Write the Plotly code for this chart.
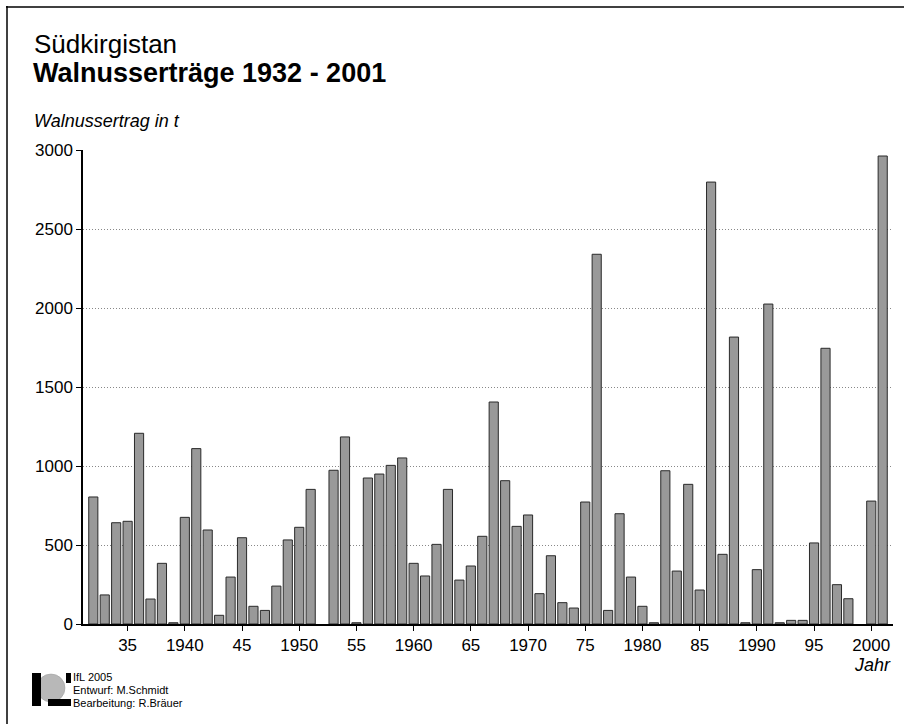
import plotly.graph_objects as go

years = list(range(1932, 2002))
ertrag = [
    804, 184, 641, 650, 1207, 158, 384, 8, 675, 1110,   # 1932-1941
    595, 55, 297, 546, 112, 86, 240, 532, 612, 852,     # 1942-1951
    None, 973, 1184, 8, 924, 949, 1004, 1051, 384, 304,  # 1952-1961
    504, 852, 278, 367, 555, 1405, 907, 618, 690, 192,  # 1962-1971
    432, 135, 101, 772, 2340, 86, 698, 297, 112, 8,     # 1972-1981
    970, 335, 884, 215, 2797, 441, 1816, 8, 344, 2025,  # 1982-1991
    8, 23, 23, 513, 1745, 249, 160, None, 778, 2962,    # 1992-2001
]
tick_years = [1935, 1940, 1945, 1950, 1955, 1960, 1965, 1970, 1975, 1980, 1985, 1990, 1995, 2000]
tick_labels = ["35", "1940", "45", "1950", "55", "1960", "65", "1970", "75", "1980", "85", "1990", "95", "2000"]
y_ticks = [0, 500, 1000, 1500, 2000, 2500, 3000]

W, H = 904, 724
L, R, T, B = 83, 11, 150, 100
FONT = "Liberation Sans, Arial, Helvetica, sans-serif"


def px(x):
    return (x - L) / (W - L - R)


def py(y):
    return (H - B - y) / (H - T - B)


fig = go.Figure()
fig.add_trace(go.Bar(
    x=years, y=ertrag, width=0.8,
    marker=dict(color="#999999", line=dict(color="#2a2a2a", width=1)),
    hoverinfo="x+y",
))

fig.update_layout(
    width=W, height=H,
    margin=dict(l=L, r=R, t=T, b=B),
    paper_bgcolor="white", plot_bgcolor="white",
    font=dict(family=FONT, color="black", size=17),
    showlegend=False,
)
fig.update_xaxes(
    range=[1931.1, 2001.9],
    tickvals=tick_years, ticktext=tick_labels,
    showline=True, linecolor="black", linewidth=1.5,
    ticks="outside", ticklen=5, tickwidth=1.2, tickcolor="black",
    showgrid=False, zeroline=False,
    tickfont=dict(size=17, family=FONT),
)
fig.update_yaxes(
    range=[0, 3000],
    tickvals=y_ticks,
    showline=True, linecolor="black", linewidth=1.5,
    ticks="outside", ticklen=5, tickwidth=1.2, tickcolor="black",
    showgrid=True, gridcolor="#888888", griddash="1px,2px", gridwidth=1,
    zeroline=False,
    tickfont=dict(size=17, family=FONT),
)

annotations = [
    dict(text="Südkirgistan", x=px(32), y=py(44), xanchor="left", yanchor="middle",
         font=dict(size=26, family=FONT)),
    dict(text="<b>Walnusserträge 1932 - 2001</b>", x=px(31), y=py(73), xanchor="left", yanchor="middle",
         font=dict(size=27, family=FONT)),
    dict(text="<i>Walnussertrag in t</i>", x=px(32), y=py(121), xanchor="left", yanchor="middle",
         font=dict(size=18, family=FONT)),
    dict(text="<i>Jahr</i>", x=px(893), y=py(665), xanchor="right", yanchor="middle",
         font=dict(size=18, family=FONT)),
    dict(text="IfL 2005", x=px(72), y=py(676.5), xanchor="left", yanchor="middle",
         font=dict(size=11, family=FONT), borderpad=0),
    dict(text="Entwurf: M.Schmidt", x=px(72), y=py(689.5), xanchor="left", yanchor="middle",
         font=dict(size=11, family=FONT), borderpad=0),
    dict(text="Bearbeitung: R.Bräuer", x=px(72), y=py(702.5), xanchor="left", yanchor="middle",
         font=dict(size=11, family=FONT), borderpad=0),
]
for a in annotations:
    a.update(xref="paper", yref="paper", showarrow=False)
fig.update_layout(annotations=annotations)

shapes = [
    # frame (left and top)
    dict(type="line", x0=px(7), x1=px(7), y0=py(6), y1=py(724), line=dict(color="black", width=1.5)),
    dict(type="line", x0=px(6), x1=px(904), y0=py(7), y1=py(7), line=dict(color="black", width=1.5)),
    # logo
    dict(type="circle", x0=px(37), x1=px(65), y0=py(702), y1=py(674),
         fillcolor="#b8b8b8", line=dict(color="#9a9a9a", width=0.5)),
    dict(type="rect", x0=px(32), x1=px(41), y0=py(706), y1=py(673), fillcolor="black", line_width=0),
    dict(type="rect", x0=px(48), x1=px(71), y0=py(706), y1=py(699), fillcolor="black", line_width=0),
    dict(type="rect", x0=px(66), x1=px(71), y0=py(683), y1=py(673), fillcolor="black", line_width=0),
]
for s in shapes:
    s.update(xref="paper", yref="paper", layer="above")
fig.update_layout(shapes=shapes)

fig.write_html(
    "out.html",
    config={"displayModeBar": False},
    post_script="document.body.style.margin='0';document.body.style.padding='0';document.body.style.overflow='hidden';",
)
